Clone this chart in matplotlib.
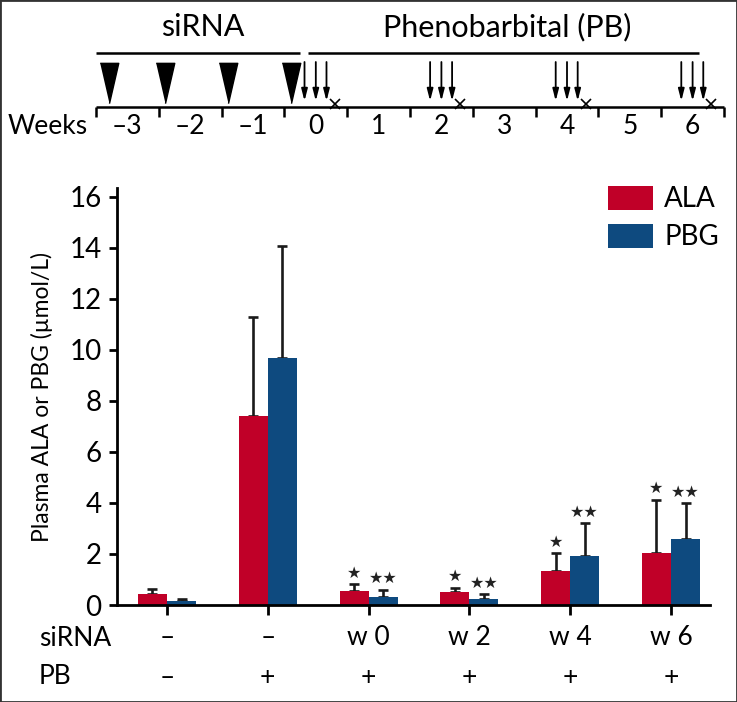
import matplotlib
matplotlib.use("Agg")
import matplotlib.pyplot as plt
from matplotlib.patches import Rectangle

plt.rcParams['font.family'] = ['Lato', 'DejaVu Sans']

# ---- data ----
groups = ["g1", "g2", "g3", "g4", "g5", "g6"]
sirna_labels = ["–", "–", "w 0", "w 2", "w 4", "w 6"]
pb_labels = ["–", "+", "+", "+", "+", "+"]

ala_mean = [0.45, 7.41, 0.56, 0.50, 1.33, 2.03]
ala_err = [0.18, 3.88, 0.26, 0.18, 0.70, 2.09]
pbg_mean = [0.14, 9.69, 0.31, 0.22, 1.92, 2.59]
pbg_err = [0.11, 4.39, 0.29, 0.20, 1.28, 1.40]
ala_sig = ["", "", "★", "★", "★", "★"]
pbg_sig = ["", "", "★★", "★★", "★★", "★★"]

# timeline (weeks)
week_labels = ["–3", "–2", "–1", "0", "1", "2", "3", "4", "5", "6"]
week_pos = [-3, -2, -1, 0, 1, 2, 3, 4, 5, 6]
sirna_doses = [-3.3, -2.4, -1.4, -0.4]
pb_doses = [-0.18, 0.0, 0.17, 1.82, 2.0, 2.17, 3.82, 4.0, 4.17, 5.82, 6.0, 6.17]
sample_weeks = [0.3, 2.3, 4.3, 6.3]
sirna_period = (-3.5, -0.25)
pb_period = (-0.12, 6.1)

RED = "#c00028"
BLUE = "#0e4a7f"

W, H = 737, 702
fig = plt.figure(figsize=(W / 100, H / 100), dpi=100)

# ---- timeline panel ----
tl = fig.add_axes([0, 1 - 150 / H, 1, 150 / H])
tl.set_xlim(-5.029, 6.707)
tl.set_ylim(150, 0)
tl.axis("off")

tl.text(-1.8, 27, "siRNA", ha="center", va="center", fontsize=22)
tl.text(3.05, 27, "Phenobarbital (PB)", ha="center", va="center", fontsize=22)
tl.hlines(53, *sirna_period, color="black", lw=1.8)
tl.hlines(53, *pb_period, color="black", lw=1.8)

tri = [(-0.23, 0.5), (0.23, 0.5), (0.0, -0.5)]
tl.plot(sirna_doses, [83] * len(sirna_doses), ls="none", marker=tri,
        markersize=29, color="black")
for d in pb_doses:
    tl.annotate("", xy=(d, 101), xytext=(d, 62),
                arrowprops=dict(arrowstyle="-|>,head_width=0.18,head_length=0.7",
                                color="black", lw=1.3, shrinkA=0, shrinkB=0))
tl.plot(sample_weeks, [104] * len(sample_weeks), ls="none", marker="x",
        markersize=7, mew=1.2, color="black")

edges = [w - 0.5 for w in week_pos] + [week_pos[-1] + 0.5]
tl.hlines(107, edges[0], edges[-1], color="black", lw=1.8)
tl.vlines(edges, 107, 117, color="black", lw=1.8)
for w, lab in zip(week_pos, week_labels):
    tl.text(w, 126, lab, ha="center", va="center", fontsize=19)
tl.text(-3.63, 126, "Weeks", ha="right", va="center", fontsize=19)

# ---- bar chart ----
ax = fig.add_axes([117 / W, 1 - 605 / H, (710 - 117) / W, (605 - 188) / H])
x = list(range(len(groups)))
bw = 0.288
xa = [i - bw / 2 for i in x]
xb = [i + bw / 2 for i in x]
ax.bar(xa, ala_mean, bw, color=RED, label="ALA", zorder=2)
ax.bar(xb, pbg_mean, bw, color=BLUE, label="PBG", zorder=2)
ax.errorbar(xa, ala_mean, yerr=[[0] * len(x), ala_err], fmt="none",
            ecolor="#1a1a1a", elinewidth=1.9, capsize=3.3, capthick=1.9, zorder=1)
ax.errorbar(xb, pbg_mean, yerr=[[0] * len(x), pbg_err], fmt="none",
            ecolor="#1a1a1a", elinewidth=1.9, capsize=3.3, capthick=1.9, zorder=1)

for i in x:
    if ala_sig[i]:
        ax.annotate(ala_sig[i], (xa[i], ala_mean[i] + ala_err[i]),
                    xytext=(0, 8), textcoords="offset points", ha="center",
                    va="center", fontsize=11.5, family="DejaVu Sans", color="#222222")
    if pbg_sig[i]:
        ax.annotate(pbg_sig[i], (xb[i], pbg_mean[i] + pbg_err[i]),
                    xytext=(0, 8), textcoords="offset points", ha="center",
                    va="center", fontsize=11.5, family="DejaVu Sans", color="#222222")

ax.set_xlim(-0.496, 5.387)
ax.set_ylim(0, 16.35)
ax.set_yticks(range(0, 17, 2))
ax.set_xticks(x)
ax.set_xticklabels([])
for s in ["top", "right"]:
    ax.spines[s].set_visible(False)
for s in ["left", "bottom"]:
    ax.spines[s].set_linewidth(2.0)
ax.tick_params(axis="y", direction="out", length=6, width=2.0, labelsize=20, pad=5)
ax.tick_params(axis="x", direction="out", length=7, width=2.0)
ax.set_ylabel("Plasma ALA or PBG (µmol/L)", fontsize=16.5, labelpad=12)

trans = ax.get_xaxis_transform()
for i in x:
    ax.text(i, -0.079, sirna_labels[i], transform=trans, ha="center",
            va="center", fontsize=19)
    ax.text(i, -0.173, pb_labels[i], transform=trans, ha="center",
            va="center", fontsize=19)
fig.text(39 / W, 1 - 638 / H, "siRNA", ha="left", va="center", fontsize=19)
fig.text(39 / W, 1 - 677 / H, "PB", ha="left", va="center", fontsize=19)

ax.legend(loc="upper right", bbox_to_anchor=(1.015, 1.005), frameon=False,
          fontsize=20, handlelength=1.62, handleheight=0.94, labelspacing=0.42,
          handletextpad=0.4, borderaxespad=0, borderpad=0)

fig.patches.append(Rectangle((0, 0), 1, 1, transform=fig.transFigure,
                             fill=False, lw=2, edgecolor="#333333"))

fig.savefig("out.png", dpi=100)
